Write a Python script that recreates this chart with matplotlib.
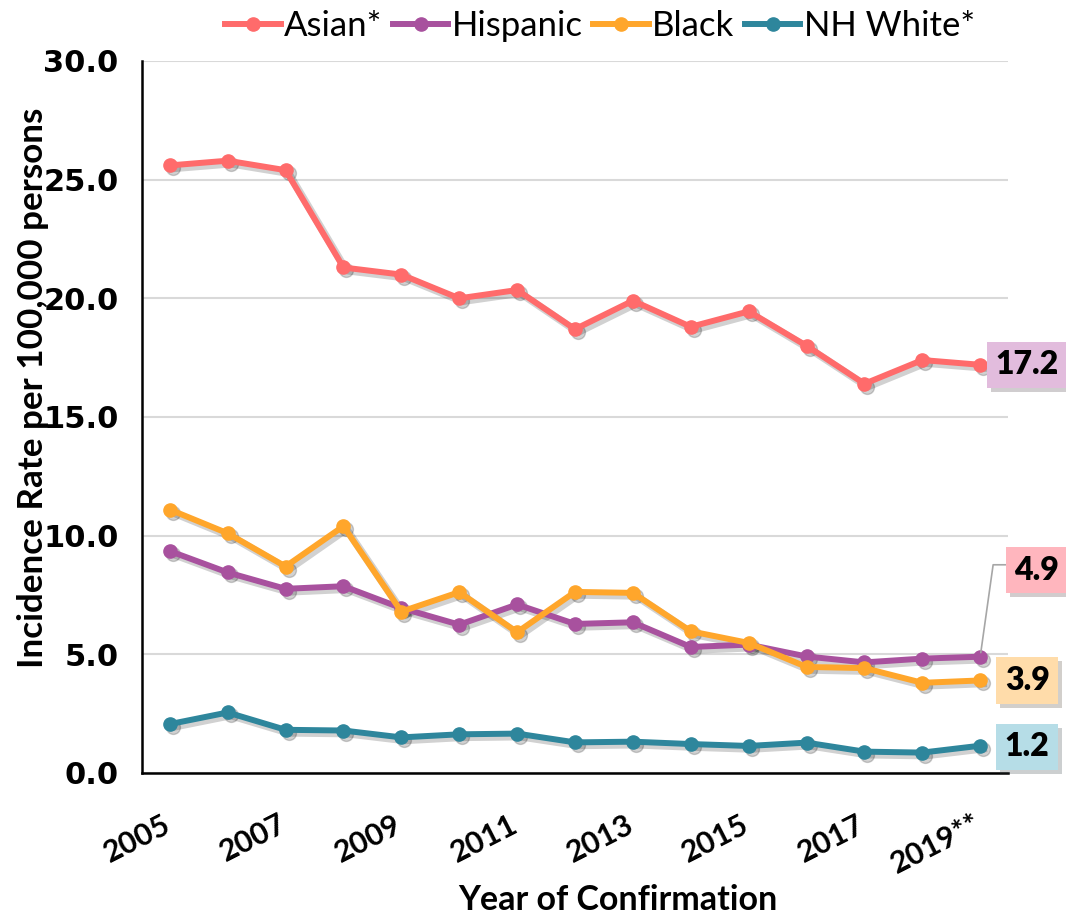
import matplotlib
matplotlib.use("Agg")
import matplotlib.pyplot as plt
import matplotlib.patheffects as pe
from matplotlib.transforms import offset_copy

# data
years = list(range(2005, 2020))
asian = [25.6, 25.8, 25.4, 21.3, 21.0, 20.0, 20.35, 18.7, 19.9, 18.8, 19.45, 18.0, 16.4, 17.4, 17.2]
hispanic = [9.35, 8.45, 7.76, 7.87, 6.95, 6.25, 7.1, 6.28, 6.35, 5.31, 5.41, 4.91, 4.66, 4.82, 4.9]
black = [11.1, 10.1, 8.7, 10.4, 6.8, 7.62, 5.93, 7.63, 7.59, 5.97, 5.48, 4.47, 4.42, 3.8, 3.9]
nh_white = [2.06, 2.55, 1.82, 1.79, 1.5, 1.63, 1.66, 1.29, 1.32, 1.22, 1.14, 1.28, 0.9, 0.86, 1.15]

series_names = ["Asian*", "Hispanic", "Black", "NH White*"]
series_colors = ["#FF6B6B", "#A8519E", "#FFA62B", "#2E869C"]
end_labels = ["17.2", "4.9", "3.9", "1.2"]
box_colors = ["#E2BCDD", "#FFB6BE", "#FFDCAA", "#B6DDE7"]

xtick_years = [2005, 2007, 2009, 2011, 2013, 2015, 2017, 2019]
xtick_labels = ["2005", "2007", "2009", "2011", "2013", "2015", "2017", "2019**"]
yticks = [0, 5, 10, 15, 20, 25, 30]

FONT = "Lato"

fig = plt.figure(figsize=(10.66, 9.14), dpi=100)
ax = fig.add_axes([142 / 1066, 1 - 773 / 914, (1008 - 142) / 1066, (773 - 61) / 914])

all_series = [asian, hispanic, black, nh_white]
shadow_tr = offset_copy(ax.transData, fig=fig, x=3, y=-3, units="dots")
handles = []
for vals, name, col in zip(all_series, series_names, series_colors):
    # soft drop shadow
    ax.plot(years, vals, color="black", alpha=0.18, lw=5.5, marker="o", ms=10,
            transform=shadow_tr, zorder=2)
    h, = ax.plot(years, vals, color=col, lw=4.3, marker="o", ms=9.5, label=name, zorder=3)
    handles.append(h)

ax.set_xlim(2004.52, 2019.48)
ax.set_ylim(0, 30)
ax.set_yticks(yticks)
ax.set_yticklabels([f"{v:.1f}" for v in yticks], fontsize=22, fontweight="bold",
                   family="DejaVu Sans")
ax.tick_params(axis="both", length=0)
ax.tick_params(axis="y", pad=17)

# slanted year labels, placed below the axis
ax.set_xticks(xtick_years)
ax.set_xticklabels([])
lab_tr = offset_copy(ax.get_xaxis_transform(), fig=fig, x=5, y=-37, units="dots")
for yr, lab in zip(xtick_years, xtick_labels):
    ax.text(yr, 0, lab, transform=lab_tr, rotation=27, ha="right", va="top",
            fontsize=22, fontweight="bold", family=FONT)

ax.grid(axis="y", color="#D9D9D9", lw=1.5)
ax.set_axisbelow(True)
for s in ["top", "right"]:
    ax.spines[s].set_visible(False)
for s in ["left", "bottom"]:
    ax.spines[s].set_color("black")
    ax.spines[s].set_linewidth(1.8)

fig.text(33 / 1066, 1 - 388 / 914, "Incidence Rate per 100,000 persons", rotation=90,
         ha="center", va="center", fontsize=25.2, fontweight="bold", family=FONT)
fig.text(618 / 1066, 1 - 910 / 914, "Year of Confirmation", ha="center", va="baseline",
         fontsize=24.5, fontweight="bold", family=FONT)

fig.legend(handles=handles, loc="center", bbox_to_anchor=(600 / 1066, 1 - 26 / 914),
           ncol=4, frameon=False, handlelength=1.6, handletextpad=0.1,
           columnspacing=0.3, prop={"family": FONT, "size": 25})

# end-of-line value boxes
offsets = [(47, 0), (56.5, 86.7), (47, 0), (47, -1)]
for vals, txt, bc, off in zip(all_series, end_labels, box_colors, offsets):
    arrow = None
    if off[1] > 20:
        arrow = dict(arrowstyle="-", color="#A6A6A6", lw=1.2, relpos=(0, 0.68),
                     shrinkA=0, shrinkB=3,
                     connectionstyle="angle,angleA=0,angleB=82,rad=0")
    ann = ax.annotate(txt, xy=(years[-1], vals[-1]), xytext=off, textcoords="offset pixels",
                      ha="center", va="center", fontsize=23, fontweight="heavy", family=FONT,
                      annotation_clip=False, arrowprops=arrow,
                      bbox=dict(boxstyle="square,pad=0.27", fc=bc, ec="none"))
    ann.get_bbox_patch().set_path_effects(
        [pe.SimplePatchShadow(offset=(3, -3), alpha=0.25), pe.Normal()])

fig.savefig("out.png", dpi=100)
